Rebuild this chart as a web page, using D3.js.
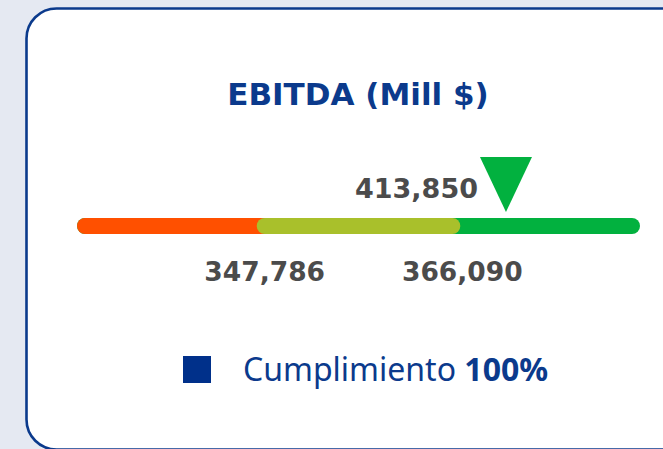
<!DOCTYPE html>
<html>
<head>
<meta charset="utf-8">
<script src="https://cdn.jsdelivr.net/npm/d3@7"></script>
<style>
  html, body { margin: 0; padding: 0; background: #e5e9f2; }
  svg { display: block; }
  .num { font-family: 'DejaVu Sans'; font-weight: bold; fill: #4b4b4b; }
</style>
</head>
<body>
<svg id="chart" width="663" height="449"></svg>
<script>
// values
let title = 'EBITDA (Mill $)';
let thresholds = [347786, 366090];
let actual = 413850;
let bounds = [0, 526000];
let segColors = ['#ff5000', '#a9c02b', '#02b13f'];
let legendLabel = 'Cumplimiento ';
let legendValue = '100%';

let w = 663, h = 449;
let svg = d3.select('#chart');

// card
svg.append('rect')
  .attr('x', 26.5)
  .attr('y', 8.5)
  .attr('width', 720)
  .attr('height', 441)
  .attr('rx', 30)
  .attr('fill', '#fff')
  .attr('stroke', '#0b3a8c')
  .attr('stroke-width', 2.6);

svg.append('text')
  .attr('x', 358)
  .attr('y', 105)
  .attr('text-anchor', 'middle')
  .style('font-family', 'DejaVu Sans')
  .style('font-weight', 'bold')
  .style('font-size', '31px')
  .attr('fill', '#0b3a8c')
  .text(title);

// the bar is split in three equal parts, thresholds at the joints
let x = d3.scaleLinear()
  .domain([bounds[0], thresholds[0], thresholds[1], bounds[1]])
  .range([85, 264.7, 452.3, 632]);

let barY = 226;

let segs = [
  {from: bounds[0], to: bounds[1], color: segColors[2]},
  {from: bounds[0], to: (thresholds[0] + thresholds[1]) / 2, color: segColors[0]},
  {from: thresholds[0], to: thresholds[1], color: segColors[1]}
];

svg.selectAll('line.seg')
  .data(segs)
  .enter()
  .append('line')
  .attr('class', 'seg')
  .attr('x1', (d) => x(d.from))
  .attr('x2', (d) => x(d.to))
  .attr('y1', barY)
  .attr('y2', barY)
  .attr('stroke', (d) => d.color)
  .attr('stroke-width', 16)
  .attr('stroke-linecap', 'round');

// threshold labels
let labelShift = [0, 10];
svg.selectAll('text.th')
  .data(thresholds)
  .enter()
  .append('text')
  .attr('class', 'th num')
  .attr('x', (d, i) => x(d) + labelShift[i])
  .attr('y', 281)
  .attr('text-anchor', 'middle')
  .style('font-size', '26.5px')
  .text((d) => d3.format(',')(d));

// actual marker
let mx = x(actual);
svg.append('path')
  .attr('d', `M${mx - 26},157 L${mx + 26},157 L${mx},212 Z`)
  .attr('fill', segColors[2]);

svg.append('text')
  .attr('class', 'num')
  .attr('x', mx - 28)
  .attr('y', 198)
  .attr('text-anchor', 'end')
  .style('font-size', '27px')
  .text(d3.format(',')(actual));

// legend
svg.append('rect')
  .attr('x', 183)
  .attr('y', 356)
  .attr('width', 28)
  .attr('height', 27)
  .attr('fill', '#00308a');

let lt = svg.append('text')
  .attr('x', 243)
  .attr('y', 381)
  .style('font-family', 'Noto Sans')
  .style('font-size', '32px')
  .attr('fill', '#0b3a8c');
lt.append('tspan').text(legendLabel);
lt.append('tspan').style('font-weight', 'bold').text(legendValue);
</script>
</body>
</html>
